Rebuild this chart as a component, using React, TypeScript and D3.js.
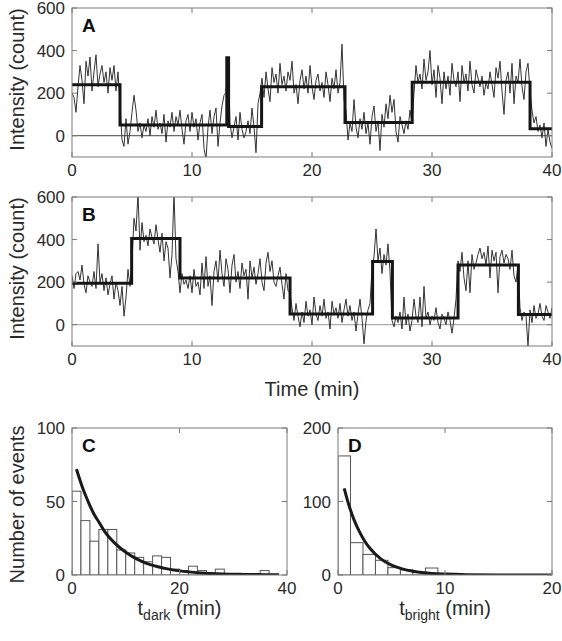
import React from 'react';
import * as d3 from 'd3';

// ---------- DATA ----------
const traceTimeStep = 1 / 6; // minutes between frames
const traceA = [
  200, 180, 110, 230, 330, 260, 150, 350, 280, 370, 210, 300, 380, 230, 290, 330, 250, 300, 200, 320, 260, 330, 210, 300,
  150, -20, -50, 80, -40, 20, 110, 190, 120, 20, 60, -10, 50, 20, 80, 0, 90, 40, 120, 30, 60, 10, 100, -30, 70, 40,
  110, 20, 90, 50, 120, 30, -40, 70, 100, 20, 110, 40, 80, -20, 60, 100, -60, -110, 40, 120, 10, 90, 130, -50, 60, 140,
  190, 200, 366,
  60, -10, 40, 90, -20, 110, 30, -10, 20, 70, 10, 130, 40, -80, 150, 200,
  270, 180, 300, 220, 160, 320, 250, 290, 200, 340, 240, 280, 210, 300, 260, 350, 200, 240, 150, 260,
  310, 220, 280, 200, 330, 230, 170, 260, 290, 210, 250, 180, 300, 240, 160, 270, 220, 310, 200, 250, 430, 170,
  120, -20, 60, 20, 170, 40, -10, 80, 30, 110, 10, 60, -40, 90, 140, 20, 70, -70, 100, 40,
  150, 80, 190, 110, 170, 20, -30, 90, 50, 10, 70, 30, 120, 60,
  200, 330, 250, 290, 220, 360, 260, 300, 400, 240, 310, 180, 330, 270, 150, 300, 220, 280, 190, 340,
  260, 230, 300, 160, 330, 250, 290, 210, 350, 240, 200, 310, 270, 230, 280, 190, 250, 220, 300, 240,
  180, 320, 270, 350, 210, 100, 260, 300, 200, 340, 150, 280, 250, 360, 230, 170, 300, 340, 210,
  120, 60, 90, 20, 50, -10, 60, -50, 30, -30, -60,
];
const fitABreaks = [0, 4.0, 12.9, 13.05, 15.8, 22.75, 28.35, 38.17, 40];
const fitALevels = [240, 50, 366, 43, 230, 62, 251, 33];

const traceB = [
  230, 170, 240, 250, 210, 280, 190, 150, 230, 200, 180, 250, 170, 380, 200, 240, 160, 220, 140, 190,
  230, 120, 200, 160, 90, 180, 40, 130, 260, 180,
  300, 500, 440, 620, 350, 480, 390, 420, 370, 450, 410, 380, 470, 400, 340, 430, 300, 390, 360, 220,
  330, 620, 310, 250,
  150, 240, 190, 210, 170, 230, 150, 260, 180, 200, 140, 290, 170, 320, 180, 230, 90, 250, 300, 200,
  350, 240, 180, 310, 260, 150, 280, 330, 200, 250, 170, 290, 230, 260, 120, 300, 220, 270, 190, 240,
  310, 200, 160, 290, 340, 250, 300, 200, 180, 230, 270, 190, 120, 240, 160,
  150, 80, 20, 100, 40, -10, 60, 10, 110, 40, 70, 0, 130, 50, 20, 90, 40, 120, 30, 60,
  -20, 110, 50, 80, 30, 100, 10, 70, 120, 40, 90, 20, 60, -30, 50, 120, 30, -90, 20, 70, 100,
  260, 320, 450, 300, 360, 240, 330, 280, 380, 250,
  20, -10, 40, 10, 60, -20, 130, 0, 50, -30, 20, 120, 40, 10, 130, -10, 180, 30, 60, 0,
  40, 20, 80, 10, -20, 50, 30, 0, 60, 20, -40, 30, 120,
  300, 250, 340, 220, 160, 300, 150, 330, 260, 290, 330, 360, 310, 340, 280, 370, 220, 350, 300, 340,
  150, 320, 350, 290, 330, 310, 260, 350, 230, 200, 280,
  80, 20, 60, 40, -100, 70, 10, 90, 30, 50, 100, 40, 20, 90, 60, 30, 80,
];
const fitBBreaks = [0, 4.97, 9.0, 18.17, 25.05, 26.7, 32.17, 37.2, 40];
const fitBLevels = [195, 405, 219, 50, 297, 31, 281, 48];

const traceTicksX = [0, 10, 20, 30, 40];
const traceTicksY = [0, 200, 400, 600];

const darkBinWidth = 5 / 3;
const darkCounts = [57, 37, 23, 31, 31, 17, 15, 12, 9, 13, 12, 4, 3, 6, 3, 1, 4, 1, 0, 1, 1, 3, 0, 0];
const darkFitT = [0.83, 2, 3, 4, 5, 6, 8, 10, 12, 14, 16, 18, 20, 24, 28, 32, 36, 38.5];
const darkFitV = [72, 59, 50, 42, 36, 30, 21.5, 15.5, 11, 7.8, 5.6, 4, 2.8, 1.4, 0.7, 0.4, 0.2, 0.1];
const darkTicksX = [0, 20, 40];
const darkTicksY = [0, 50, 100];

const brightBinWidth = 7 / 6;
const brightCounts = [162, 44, 28, 20, 10, 7, 3.6, 9.5, 0, 0, 0, 0, 0, 0, 0, 0, 0];
const brightFitT = [0.58, 1, 1.5, 2, 2.5, 3, 4, 5, 6, 7, 8, 10, 12, 15, 20];
const brightFitV = [118, 96, 75, 59, 46, 36, 22, 13.4, 8.3, 5.1, 3.1, 1.2, 0.4, 0.1, 0];
const brightTicksX = [0, 10, 20];
const brightTicksY = [0, 100, 200];

// ---------- STYLE ----------
const FONT = '"Liberation Sans", Arial, Helvetica, sans-serif';
const BOX = '#7a7a7a';
const TXT = '#2a2a2a';
const TICK_FS = 17;
const LABEL_FS = 20;

type Frame = { x0: number; x1: number; y0: number; y1: number };

function Axes({ f, xs, ys, xt, yt, letter, showXLabels = true }: any) {
  const tl = 5;
  return (
    <g>
      <rect x={f.x0} y={f.y0} width={f.x1 - f.x0} height={f.y1 - f.y0} fill="none" stroke={BOX} strokeWidth={1} />
      {xt.map((t: number) => (
        <g key={'x' + t}>
          <line x1={xs(t)} x2={xs(t)} y1={f.y1} y2={f.y1 - tl} stroke={BOX} />
          <line x1={xs(t)} x2={xs(t)} y1={f.y0} y2={f.y0 + tl} stroke={BOX} />
          {showXLabels && (
            <text x={xs(t)} y={f.y1 + 19} textAnchor="middle" fontSize={TICK_FS} fill={TXT} fontFamily={FONT}>
              {t}
            </text>
          )}
        </g>
      ))}
      {yt.map((t: number) => (
        <g key={'y' + t}>
          <line x1={f.x0} x2={f.x0 + tl} y1={ys(t)} y2={ys(t)} stroke={BOX} />
          <line x1={f.x1} x2={f.x1 - tl} y1={ys(t)} y2={ys(t)} stroke={BOX} />
          <text x={f.x0 - 7} y={ys(t)} dy="0.36em" textAnchor="end" fontSize={TICK_FS} fill={TXT} fontFamily={FONT}>
            {t}
          </text>
        </g>
      ))}
      <text x={f.x0 + 10} y={f.y0 + 24} fontSize={19} fontWeight="bold" fill="#111" fontFamily={FONT}>
        {letter}
      </text>
    </g>
  );
}

function TracePanel({ f, data, breaks, levels, letter, id, zeroColor, showXLabels }: any) {
  const xs = d3.scaleLinear().domain([0, 40]).range([f.x0, f.x1]);
  const ys = d3.scaleLinear().domain([-100, 600]).range([f.y1, f.y0]);
  const raw = d3
    .line<number>()
    .x((_, i) => xs(i * traceTimeStep))
    .y((d) => ys(d));
  const pts: [number, number][] = levels.map((l: number, i: number) => [breaks[i], l]);
  pts.push([breaks[breaks.length - 1], levels[levels.length - 1]]);
  const step = d3
    .line<[number, number]>()
    .x((d) => xs(d[0]))
    .y((d) => ys(d[1]))
    .curve(d3.curveStepAfter);
  return (
    <g>
      <defs>
        <clipPath id={id}>
          <rect x={f.x0} y={f.y0} width={f.x1 - f.x0} height={f.y1 - f.y0} />
        </clipPath>
      </defs>
      <g clipPath={`url(#${id})`}>
        <line x1={f.x0} x2={f.x1} y1={ys(0)} y2={ys(0)} stroke={zeroColor} strokeWidth={1} />
        <path d={raw(data) || ''} fill="none" stroke="#333" strokeWidth={1} strokeLinejoin="round" />
        <path d={step(pts) || ''} fill="none" stroke="#151515" strokeWidth={3} />
      </g>
      <Axes f={f} xs={xs} ys={ys} xt={traceTicksX} yt={traceTicksY} letter={letter} showXLabels={showXLabels} />
      <text
        transform={`translate(${24},${(f.y0 + f.y1) / 2 - 3}) rotate(-90)`}
        textAnchor="middle"
        fontSize={LABEL_FS}
        fill={TXT}
        fontFamily={FONT}
      >
        Intensity (count)
      </text>
    </g>
  );
}

function HistPanel({ f, counts, binW, xMax, yMax, fitT, fitV, xt, yt, letter, id, sub }: any) {
  const xs = d3.scaleLinear().domain([0, xMax]).range([f.x0, f.x1]);
  const ys = d3.scaleLinear().domain([0, yMax]).range([f.y1, f.y0]);
  const curve = d3
    .line<number>()
    .x((_, i) => xs(fitT[i]))
    .y((d) => ys(d))
    .curve(d3.curveMonotoneX);
  return (
    <g>
      <defs>
        <clipPath id={id}>
          <rect x={f.x0} y={f.y0} width={f.x1 - f.x0} height={f.y1 - f.y0} />
        </clipPath>
      </defs>
      <g clipPath={`url(#${id})`}>
        {counts.map((c: number, i: number) => (
          <rect
            key={i}
            x={xs(i * binW)}
            y={ys(c)}
            width={xs(binW) - xs(0)}
            height={ys(0) - ys(c)}
            fill="#fff"
            stroke="#555"
            strokeWidth={1}
          />
        ))}
        <path d={curve(fitV) || ''} fill="none" stroke="#1a1a1a" strokeWidth={3} />
      </g>
      <Axes f={f} xs={xs} ys={ys} xt={xt} yt={yt} letter={letter} />
      <text x={(f.x0 + f.x1) / 2} y={f.y1 + 40} textAnchor="middle" fontSize={LABEL_FS} fill={TXT} fontFamily={FONT}>
        t
        <tspan fontSize={14} dy={5}>
          {sub}
        </tspan>
        <tspan dy={-5}> (min)</tspan>
      </text>
    </g>
  );
}

export default function App() {
  const fA: Frame = { x0: 72, x1: 552, y0: 8, y1: 157 };
  const fB: Frame = { x0: 72, x1: 552, y0: 197, y1: 346 };
  const fC: Frame = { x0: 72, x1: 287, y0: 428, y1: 575 };
  const fD: Frame = { x0: 338, x1: 552, y0: 428, y1: 575 };
  return (
    <svg width={562} height={641} style={{ position: 'absolute', left: 0, top: 0, background: '#fff' }}>
      <rect width={562} height={641} fill="#fff" />
      <TracePanel f={fA} data={traceA} breaks={fitABreaks} levels={fitALevels} letter="A" id="clipA" zeroColor="#444" showXLabels />
      <TracePanel f={fB} data={traceB} breaks={fitBBreaks} levels={fitBLevels} letter="B" id="clipB" zeroColor="#999" showXLabels />
      <text x={312} y={396} textAnchor="middle" fontSize={LABEL_FS} fill={TXT} fontFamily={FONT}>
        Time (min)
      </text>
      <HistPanel
        f={fC}
        counts={darkCounts}
        binW={darkBinWidth}
        xMax={40}
        yMax={100}
        fitT={darkFitT}
        fitV={darkFitV}
        xt={darkTicksX}
        yt={darkTicksY}
        letter="C"
        id="clipC"
        sub="dark"
      />
      <HistPanel
        f={fD}
        counts={brightCounts}
        binW={brightBinWidth}
        xMax={20}
        yMax={200}
        fitT={brightFitT}
        fitV={brightFitV}
        xt={brightTicksX}
        yt={brightTicksY}
        letter="D"
        id="clipD"
        sub="bright"
      />
      <text
        transform={`translate(24,${(fC.y0 + fC.y1) / 2 + 3}) rotate(-90)`}
        textAnchor="middle"
        fontSize={LABEL_FS}
        fill={TXT}
        fontFamily={FONT}
      >
        Number of events
      </text>
    </svg>
  );
}
